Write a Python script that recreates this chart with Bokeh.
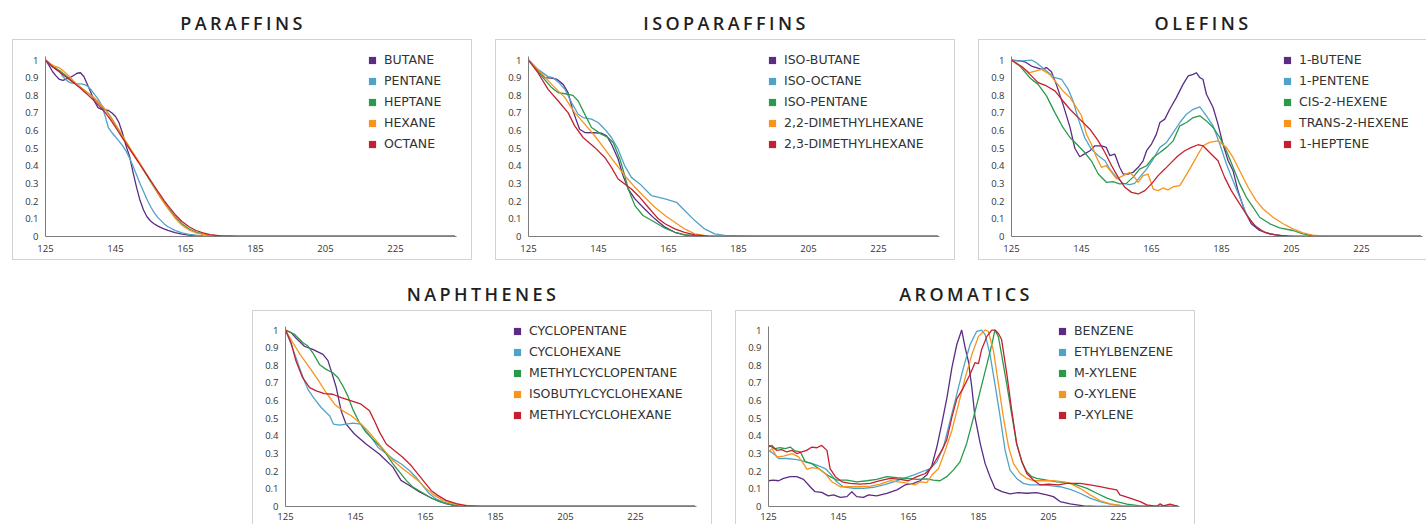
from bokeh.plotting import figure
from bokeh.models import Div, Legend, LegendItem, FixedTicker, Range1d, CustomJSTickFormatter, Spacer
from bokeh.layouts import row, column
from bokeh.embed import file_html
from bokeh.resources import INLINE

COLORS = ["#5b2c83", "#4fa3c8", "#2a9a4a", "#f7941e", "#c4202f"]
X_TICKS = [125, 145, 165, 185, 205, 225]
Y_TICKS = [0.0, 0.1, 0.2, 0.3, 0.4, 0.5, 0.6, 0.7, 0.8, 0.9, 1.0]

# ---------------- PARAFFINS ----------------
PAR_X = [125, 126, 127, 128, 129, 130, 131, 132, 133, 134, 135, 136, 137, 138, 139, 140, 141, 142, 143, 144,
         145, 146, 147, 148, 149, 150, 151, 152, 153, 154, 155, 156, 157, 158, 159, 160,
         162, 164, 166, 168, 170, 172, 175, 180, 190, 242]
BUTANE = [1.0, 0.97, 0.935, 0.91, 0.89, 0.885, 0.893, 0.90, 0.912, 0.925, 0.928, 0.905, 0.86, 0.815, 0.765, 0.73,
          0.72, 0.718, 0.714, 0.70, 0.68, 0.645, 0.585, 0.515, 0.455, 0.365, 0.28, 0.205, 0.15, 0.112, 0.088,
          0.072, 0.06, 0.05, 0.042, 0.035, 0.022, 0.013, 0.008, 0.004, 0.002, 0.001, 0, 0, 0, 0]
PENTANE = [1.0, 0.98, 0.96, 0.955, 0.935, 0.905, 0.885, 0.872, 0.868, 0.866, 0.865, 0.862, 0.852, 0.832, 0.805,
           0.78, 0.745, 0.685, 0.615, 0.588, 0.565, 0.54, 0.515, 0.485, 0.445, 0.40, 0.35, 0.30, 0.255, 0.21,
           0.17, 0.137, 0.11, 0.09, 0.07, 0.055, 0.035, 0.02, 0.012, 0.007, 0.004, 0.002, 0.001, 0, 0, 0]
HEPTANE = [1.0, 0.985, 0.965, 0.95, 0.94, 0.925, 0.908, 0.892, 0.876, 0.86, 0.845, 0.83, 0.815, 0.80, 0.78, 0.76,
           0.74, 0.72, 0.695, 0.665, 0.632, 0.60, 0.567, 0.535, 0.502, 0.47, 0.44, 0.41, 0.377, 0.345, 0.312,
           0.28, 0.248, 0.218, 0.19, 0.163, 0.112, 0.072, 0.043, 0.025, 0.014, 0.008, 0.003, 0.001, 0, 0]
HEXANE = [1.0, 0.98, 0.972, 0.962, 0.955, 0.94, 0.922, 0.902, 0.882, 0.862, 0.846, 0.83, 0.815, 0.80, 0.784,
          0.765, 0.745, 0.722, 0.696, 0.667, 0.636, 0.603, 0.571, 0.538, 0.506, 0.475, 0.445, 0.415, 0.382,
          0.35, 0.316, 0.282, 0.248, 0.216, 0.186, 0.158, 0.105, 0.064, 0.037, 0.021, 0.012, 0.006, 0.002, 0, 0, 0]
OCTANE = [1.0, 0.98, 0.962, 0.947, 0.932, 0.917, 0.902, 0.887, 0.872, 0.856, 0.84, 0.822, 0.804, 0.786, 0.767,
          0.747, 0.726, 0.703, 0.678, 0.649, 0.619, 0.588, 0.557, 0.527, 0.497, 0.467, 0.437, 0.408, 0.378,
          0.348, 0.318, 0.289, 0.259, 0.23, 0.201, 0.175, 0.125, 0.085, 0.055, 0.034, 0.02, 0.011, 0.004, 0.001, 0, 0]

# ---------------- ISOPARAFFINS ----------------
ISO_BUTANE_X = [125, 127.7, 129.7, 131.5, 133, 134.9, 136.3, 137.7, 139.6, 141.1, 143.5, 145.8, 147.3, 148.7,
                150.6, 152, 153.5, 155.4, 158.2, 161.1, 164, 166.8, 169.6, 173.4, 180, 242]
ISO_BUTANE_Y = [1.0, 0.945, 0.90, 0.898, 0.892, 0.862, 0.815, 0.712, 0.608, 0.589, 0.588, 0.586, 0.571, 0.524,
                0.439, 0.345, 0.269, 0.213, 0.156, 0.10, 0.053, 0.024, 0.009, 0.002, 0, 0]
ISO_OCTANE_X = [125, 127.7, 130.6, 132, 133.5, 135.4, 137.3, 139.2, 140.6, 143, 144.9, 146.8, 148.7, 150.6, 152.5,
                154.4, 156.8, 160.1, 164, 167.3, 169.6, 172.5, 175.3, 178.2, 181, 190, 242]
ISO_OCTANE_Y = [1.0, 0.947, 0.906, 0.90, 0.876, 0.834, 0.759, 0.693, 0.674, 0.665, 0.646, 0.608, 0.561, 0.495,
                0.40, 0.335, 0.298, 0.232, 0.213, 0.194, 0.147, 0.09, 0.043, 0.015, 0.006, 0, 0]
ISO_PENTANE_X = [125, 128.7, 131.6, 133.5, 136.3, 137.7, 139.2, 140.6, 143, 145.8, 147.7, 149.2, 151.1, 152.5,
                 153.5, 155.4, 157.7, 161.1, 164, 166.8, 169.6, 173.4, 180, 242]
ISO_PENTANE_Y = [1.0, 0.91, 0.844, 0.815, 0.806, 0.80, 0.768, 0.712, 0.618, 0.58, 0.561, 0.533, 0.439, 0.345,
                 0.269, 0.175, 0.119, 0.081, 0.047, 0.024, 0.009, 0.002, 0, 0]
DMH22_X = [125, 127.7, 131.6, 135.4, 138.2, 141.1, 143.9, 146.8, 149.6, 152.5, 155.4, 158.2, 161.1, 164, 166.8,
           169.6, 172.5, 175.3, 178.2, 185, 242]
DMH22_Y = [1.0, 0.947, 0.862, 0.787, 0.702, 0.637, 0.571, 0.495, 0.42, 0.345, 0.279, 0.222, 0.166, 0.119, 0.081,
           0.043, 0.015, 0.006, 0.002, 0, 0]
DMH23_X = [125, 127.7, 130.6, 133.5, 136.3, 138.2, 140.6, 143.9, 146.8, 148.7, 150.6, 152.5, 154.4, 156.8, 159.2,
           162.1, 164, 166.8, 169.6, 172.5, 176.3, 185, 242]
DMH23_Y = [1.0, 0.928, 0.834, 0.768, 0.702, 0.627, 0.561, 0.505, 0.448, 0.392, 0.326, 0.298, 0.269, 0.222, 0.166,
           0.10, 0.072, 0.043, 0.024, 0.009, 0.002, 0, 0]

# ---------------- OLEFINS ----------------
BUTENE1_X = [125, 127.4, 128.8, 130.7, 132.1, 133.6, 135, 136.4, 137.8, 139.7, 141.7, 143.1, 144.5, 145.9, 147.4,
             148.8, 150.7, 152.1, 153.1, 154.5, 155.9, 156.9, 158.3, 159.7, 161.2, 162.6, 163.6, 165, 166.4, 167.4,
             168.8, 170.2, 172.1, 174, 175.5, 176.9, 177.8, 178.8, 179.7, 180.7, 182.6, 184, 185.4, 186.9, 188.3,
             189.7, 191.6, 193.5, 195.9, 198.8, 201.6, 205.4, 242]
BUTENE1_Y = [1.0, 0.995, 0.99, 0.966, 0.957, 0.947, 0.957, 0.934, 0.862, 0.75, 0.62, 0.50, 0.452, 0.468, 0.486,
             0.514, 0.514, 0.505, 0.458, 0.467, 0.392, 0.354, 0.354, 0.363, 0.392, 0.429, 0.486, 0.524, 0.58, 0.646,
             0.665, 0.721, 0.787, 0.862, 0.91, 0.919, 0.928, 0.90, 0.891, 0.806, 0.731, 0.637, 0.524, 0.429, 0.373,
             0.26, 0.147, 0.072, 0.034, 0.015, 0.006, 0, 0]
PENTENE1_X = [125, 127.4, 130.7, 132.1, 135, 137.4, 139.3, 141.2, 142.6, 144.1, 145.9, 147.8, 149.8, 151.7, 153.1,
              155, 156.9, 158.8, 160.2, 161.6, 163.6, 165.5, 167.4, 169.3, 171.2, 173.1, 175, 176.9, 178.8, 180.7,
              182.6, 184.5, 186.4, 188.3, 190.2, 192.1, 194, 196.4, 198.8, 202.6, 206.4, 242]
PENTENE1_Y = [1.0, 0.994, 1.0, 0.985, 0.938, 0.90, 0.891, 0.834, 0.768, 0.665, 0.561, 0.495, 0.458, 0.429, 0.382,
              0.335, 0.301, 0.294, 0.301, 0.335, 0.382, 0.439, 0.505, 0.533, 0.589, 0.646, 0.693, 0.721, 0.734,
              0.684, 0.627, 0.524, 0.411, 0.316, 0.222, 0.128, 0.072, 0.034, 0.015, 0.004, 0, 0]
CIS2HEX_X = [125, 127.4, 130.2, 132.6, 135, 137.4, 139.7, 141.7, 143.6, 145.9, 147.8, 149.8, 152.1, 154, 155.9,
             157.8, 159.7, 161.6, 163.6, 165.5, 167.4, 169.3, 171.2, 173.1, 175, 176.9, 178.8, 180.7, 182.6, 184.5,
             186.4, 188.3, 190.2, 192.1, 194, 195.9, 198.8, 201.6, 205.4, 208.3, 211.1, 215.9, 242]
CIS2HEX_Y = [1.0, 0.966, 0.90, 0.862, 0.797, 0.702, 0.618, 0.561, 0.524, 0.476, 0.429, 0.354, 0.307, 0.311, 0.298,
             0.301, 0.335, 0.382, 0.401, 0.448, 0.476, 0.505, 0.542, 0.627, 0.646, 0.674, 0.684, 0.655, 0.618, 0.561,
             0.486, 0.392, 0.298, 0.222, 0.166, 0.109, 0.072, 0.049, 0.034, 0.015, 0.004, 0, 0]
TRANS2HEX_X = [125, 127.4, 130.2, 133.6, 135.9, 137.8, 139.7, 141.7, 143.6, 145, 146.4, 147.8, 149.3, 150.7, 152.1,
               153.6, 155, 156.9, 158.8, 160.2, 161.2, 162.6, 164, 165.5, 166.9, 168.3, 169.7, 171.2, 173.1, 174.5,
               175.9, 177.8, 179.7, 181.6, 184, 186.4, 188.3, 190.2, 192.6, 194.9, 196.9, 199.7, 202.6, 205.4,
               208.3, 211.1, 215, 242]
TRANS2HEX_Y = [1.0, 0.966, 0.928, 0.947, 0.919, 0.872, 0.825, 0.787, 0.731, 0.684, 0.58, 0.524, 0.448, 0.392,
               0.401, 0.363, 0.326, 0.345, 0.363, 0.335, 0.307, 0.345, 0.354, 0.269, 0.26, 0.275, 0.264, 0.282,
               0.288, 0.335, 0.382, 0.448, 0.514, 0.533, 0.542, 0.505, 0.448, 0.373, 0.279, 0.203, 0.156, 0.109,
               0.072, 0.043, 0.021, 0.008, 0, 0]
HEPTENE1_X = [125, 128.3, 130.7, 132.6, 135, 137.4, 139.7, 141.7, 144.5, 147.4, 149.8, 151.7, 153.6, 155.5, 157.4,
              159.3, 161.2, 163.1, 165, 166.9, 168.8, 170.7, 172.6, 174.5, 176.4, 178.3, 179.7, 181.6, 184, 185.9,
              187.8, 190.2, 192.6, 194.9, 197.3, 200.2, 204, 207.4, 242]
HEPTENE1_Y = [1.0, 0.957, 0.91, 0.872, 0.853, 0.825, 0.768, 0.721, 0.665, 0.608, 0.542, 0.476, 0.401, 0.335,
              0.279, 0.25, 0.241, 0.26, 0.298, 0.345, 0.382, 0.42, 0.458, 0.486, 0.505, 0.52, 0.514, 0.476, 0.429,
              0.335, 0.26, 0.185, 0.109, 0.053, 0.024, 0.009, 0.002, 0, 0]

# ---------------- NAPHTHENES ----------------
CYCLOPENTANE_X = [125, 126.6, 128, 130.4, 132.8, 135.7, 137.1, 138.2, 139.5, 140.9, 142.3, 144.7, 148, 151.8,
                  155.7, 158, 160.4, 163.3, 167.1, 170.9, 173.8, 180, 242]
CYCLOPENTANE_Y = [1.0, 0.985, 0.955, 0.908, 0.89, 0.862, 0.828, 0.76, 0.674, 0.542, 0.467, 0.411, 0.354, 0.298,
                  0.223, 0.148, 0.119, 0.082, 0.044, 0.016, 0.003, 0, 0]
CYCLOHEXANE_X = [125, 126.6, 128, 129, 130.4, 131.4, 133.3, 135.2, 136.6, 137.6, 138.7, 140.4, 142.3, 144.2,
                 146.6, 148, 149.5, 151.4, 153.3, 155.7, 158, 160.4, 162.3, 164.2, 166.1, 168, 170, 172.8, 176.6,
                 185, 242]
CYCLOHEXANE_Y = [1.0, 0.92, 0.843, 0.787, 0.711, 0.664, 0.608, 0.561, 0.533, 0.514, 0.467, 0.461, 0.467, 0.473,
                 0.467, 0.43, 0.392, 0.336, 0.307, 0.27, 0.242, 0.204, 0.166, 0.119, 0.072, 0.044, 0.025, 0.008,
                 0.001, 0, 0]
MCP_X = [125, 127.6, 130, 131.4, 132.8, 134.7, 136.6, 138.5, 140, 141.4, 142.8, 144.2, 146.1, 148, 150.4, 152.3,
         153.8, 155.7, 157.6, 159.5, 161.4, 163.8, 166.1, 168.5, 170.9, 173.8, 177.6, 185, 242]
MCP_Y = [1.0, 0.975, 0.928, 0.909, 0.871, 0.805, 0.777, 0.758, 0.73, 0.683, 0.627, 0.552, 0.476, 0.42, 0.373,
         0.336, 0.298, 0.242, 0.195, 0.148, 0.11, 0.082, 0.054, 0.031, 0.016, 0.005, 0.001, 0, 0]
IBCH_X = [125, 127.1, 129.5, 131.9, 134.2, 136.6, 139, 141.4, 143.8, 146.1, 148.5, 150.9, 153.3, 155.7, 158,
          160.4, 162.8, 165.2, 167.6, 170, 172.8, 175.7, 180.4, 190, 242]
IBCH_Y = [1.0, 0.928, 0.852, 0.787, 0.72, 0.646, 0.58, 0.542, 0.514, 0.476, 0.43, 0.373, 0.317, 0.26, 0.223,
          0.185, 0.148, 0.10, 0.063, 0.035, 0.016, 0.007, 0.001, 0, 0]
MCH_X = [125, 126.6, 128, 129.9, 131.9, 133.8, 136.1, 138.5, 140.9, 143.8, 146.6, 149, 150.4, 151.9, 153.8, 156.1,
         158.5, 160.9, 162.8, 164.7, 166.6, 168.5, 170.9, 173.8, 176.6, 180.4, 190, 242]
MCH_Y = [1.0, 0.928, 0.824, 0.73, 0.674, 0.655, 0.64, 0.636, 0.617, 0.599, 0.58, 0.542, 0.486, 0.42, 0.354,
         0.317, 0.279, 0.232, 0.185, 0.138, 0.091, 0.063, 0.035, 0.016, 0.005, 0.001, 0, 0]

# ---------------- AROMATICS ----------------
BENZENE_X = [125, 126.4, 127.9, 129.3, 131.2, 133.1, 135, 136.9, 138.3, 140.2, 142.1, 143.6, 145.5, 147.4, 148.8,
             150.2, 152.1, 153.6, 155.9, 158.8, 161.7, 164, 166.4, 168.3, 170.2, 171.7, 173.1, 174.5, 176, 177.4,
             178.8, 180.2, 181.2, 182.1, 183.1, 184, 185.5, 186.9, 188.3, 189.7, 191.7, 194, 196.4, 198.8, 201.6,
             204.5, 206.4, 208.3, 211.2, 215, 218.8, 242]
BENZENE_Y = [0.146, 0.15, 0.146, 0.159, 0.169, 0.169, 0.154, 0.112, 0.084, 0.08, 0.06, 0.066, 0.052, 0.056, 0.084,
             0.056, 0.052, 0.066, 0.06, 0.075, 0.094, 0.122, 0.131, 0.146, 0.178, 0.234, 0.337, 0.468, 0.618,
             0.787, 0.918, 1.0, 0.899, 0.824, 0.674, 0.506, 0.356, 0.243, 0.169, 0.103, 0.084, 0.071, 0.079, 0.075,
             0.079, 0.066, 0.056, 0.028, 0.015, 0.004, 0, 0]
ETHYLBENZENE_X = [125, 126.4, 127.9, 130.2, 133.1, 135.9, 138.8, 141.2, 142.6, 144.5, 146.4, 149.3, 152.1, 155,
                  157.9, 160.7, 163.6, 166.4, 168.8, 171.2, 173.1, 175, 176.9, 178.8, 180.7, 182.6, 184.5, 185.9,
                  186.9, 188.3, 189.7, 191.2, 192.6, 194, 195.9, 197.8, 199.7, 202.6, 205.5, 208.3, 211.2, 214,
                  216.9, 219.7, 222.6, 226.4, 230.2, 242]
ETHYLBENZENE_Y = [0.318, 0.30, 0.272, 0.272, 0.266, 0.253, 0.234, 0.215, 0.187, 0.14, 0.112, 0.103, 0.103, 0.109,
                  0.122, 0.14, 0.159, 0.178, 0.197, 0.215, 0.253, 0.337, 0.487, 0.637, 0.787, 0.918, 0.993, 1.0,
                  0.974, 0.861, 0.693, 0.506, 0.318, 0.206, 0.159, 0.131, 0.122, 0.122, 0.118, 0.112, 0.097, 0.075,
                  0.047, 0.028, 0.013, 0.004, 0, 0]
MXYLENE_X = [125, 126, 126.9, 128.3, 129.8, 131.2, 132.6, 134.1, 135.5, 137.4, 139.3, 141.2, 142.6, 144.5, 147.4,
             150.2, 153.1, 155.9, 158.8, 161.7, 164.5, 167.4, 170.2, 172.1, 174, 175.9, 177.8, 179.7, 181.6, 183.6,
             185.5, 187.4, 188.8, 189.7, 190.7, 191.6, 193.1, 194.5, 195.9, 197.4, 198.8, 200.2, 201.6, 204.5,
             207.4, 210.2, 213.1, 216, 218.8, 221.7, 224.5, 227.4, 231.2, 235, 242]
MXYLENE_Y = [0.337, 0.346, 0.328, 0.333, 0.328, 0.337, 0.315, 0.309, 0.253, 0.243, 0.215, 0.187, 0.169, 0.15,
             0.15, 0.14, 0.146, 0.154, 0.169, 0.163, 0.159, 0.154, 0.157, 0.15, 0.146, 0.169, 0.206, 0.253, 0.356,
             0.506, 0.655, 0.805, 0.918, 1.0, 0.96, 0.86, 0.69, 0.52, 0.356, 0.253, 0.197, 0.169, 0.159, 0.15,
             0.14, 0.135, 0.122, 0.103, 0.075, 0.047, 0.028, 0.013, 0.004, 0, 0]
OXYLENE_X = [125, 126, 127.4, 129.3, 131.7, 133.6, 135, 136, 137.4, 139.3, 141.2, 143.1, 145.5, 148.3, 151.2,
             154.1, 156.9, 159.8, 162.1, 165, 166.9, 168.3, 170.2, 171.7, 173.6, 175.5, 177.4, 179.3, 181.2, 183.1,
             185, 186.9, 187.8, 189.3, 190.7, 192.1, 193.6, 195, 196.9, 198.8, 200.7, 203.6, 206.4, 209.3, 211.2,
             214, 216.9, 219.7, 222.6, 226.4, 230.2, 242]
OXYLENE_Y = [0.309, 0.328, 0.281, 0.285, 0.30, 0.281, 0.243, 0.21, 0.22, 0.215, 0.187, 0.14, 0.112, 0.112, 0.112,
             0.116, 0.127, 0.146, 0.14, 0.131, 0.122, 0.14, 0.135, 0.178, 0.215, 0.318, 0.431, 0.58, 0.73, 0.861,
             0.964, 1.0, 0.993, 0.88, 0.693, 0.506, 0.337, 0.243, 0.187, 0.159, 0.146, 0.146, 0.146, 0.14, 0.131,
             0.103, 0.066, 0.034, 0.015, 0.004, 0, 0]
PXYLENE_X = [125, 126, 127.4, 128.8, 130.2, 131.7, 133.1, 134.5, 135.9, 137.4, 138.8, 140.2, 141.7, 142.6, 144.1,
             146, 148.3, 151.2, 154.1, 156.9, 159.8, 162.6, 165, 167.4, 169.8, 171.7, 173.1, 174.5, 175.9, 177.4,
             178.8, 180.7, 182.6, 184, 185, 185.9, 187.4, 188.8, 189.7, 190.7, 191.6, 193.1, 194.5, 195.9, 197.4,
             198.8, 200.7, 202.6, 205, 207.8, 210.2, 214, 216.9, 219.7, 222.1, 224.5, 225.4, 228.3, 231.2, 233.1,
             235.9, 236.9, 237.8, 239.7, 242]
PXYLENE_Y = [0.346, 0.337, 0.318, 0.322, 0.309, 0.318, 0.30, 0.309, 0.318, 0.337, 0.333, 0.346, 0.318, 0.215,
             0.169, 0.14, 0.131, 0.127, 0.131, 0.146, 0.159, 0.154, 0.146, 0.169, 0.187, 0.225, 0.272, 0.318, 0.375,
             0.506, 0.61, 0.674, 0.749, 0.815, 0.81, 0.89, 0.964, 1.0, 1.0, 0.98, 0.946, 0.75, 0.543, 0.356, 0.253,
             0.187, 0.15, 0.122, 0.127, 0.122, 0.131, 0.131, 0.122, 0.112, 0.103, 0.094, 0.066, 0.047, 0.028,
             0.009, 0, 0.015, 0.004, 0.013, 0]

PANELS = [
    ("PARAFFINS", ["BUTANE", "PENTANE", "HEPTANE", "HEXANE", "OCTANE"],
     [(PAR_X, BUTANE), (PAR_X, PENTANE), (PAR_X, HEPTANE), (PAR_X, HEXANE), (PAR_X, OCTANE)]),
    ("ISOPARAFFINS", ["ISO-BUTANE", "ISO-OCTANE", "ISO-PENTANE", "2,2-DIMETHYLHEXANE", "2,3-DIMETHYLHEXANE"],
     [(ISO_BUTANE_X, ISO_BUTANE_Y), (ISO_OCTANE_X, ISO_OCTANE_Y), (ISO_PENTANE_X, ISO_PENTANE_Y),
      (DMH22_X, DMH22_Y), (DMH23_X, DMH23_Y)]),
    ("OLEFINS", ["1-BUTENE", "1-PENTENE", "CIS-2-HEXENE", "TRANS-2-HEXENE", "1-HEPTENE"],
     [(BUTENE1_X, BUTENE1_Y), (PENTENE1_X, PENTENE1_Y), (CIS2HEX_X, CIS2HEX_Y),
      (TRANS2HEX_X, TRANS2HEX_Y), (HEPTENE1_X, HEPTENE1_Y)]),
    ("NAPHTHENES", ["CYCLOPENTANE", "CYCLOHEXANE", "METHYLCYCLOPENTANE", "ISOBUTYLCYCLOHEXANE",
                    "METHYLCYCLOHEXANE"],
     [(CYCLOPENTANE_X, CYCLOPENTANE_Y), (CYCLOHEXANE_X, CYCLOHEXANE_Y), (MCP_X, MCP_Y),
      (IBCH_X, IBCH_Y), (MCH_X, MCH_Y)]),
    ("AROMATICS", ["BENZENE", "ETHYLBENZENE", "M-XYLENE", "O-XYLENE", "P-XYLENE"],
     [(BENZENE_X, BENZENE_Y), (ETHYLBENZENE_X, ETHYLBENZENE_Y), (MXYLENE_X, MXYLENE_Y),
      (OXYLENE_X, OXYLENE_Y), (PXYLENE_X, PXYLENE_Y)]),
]

FONT = "Open Sans"
X_END = 242.43      # end of the drawn x axis
Y_END = 1.02        # end of the drawn y axis
PX_PER_X = 3.5
PX_PER_Y = 176.5
# horizontal position (frame-relative px) of each panel's legend
LEGEND_LEFT = [318, 235, 267, 223, 285]


def make_panel(title, names, series, width, height, top, bottom, border_css, legend_left, x_standoff):
    div = Div(text=('<div style="width:%dpx;text-align:center;font-family:\'Open Sans\';font-size:18px;'
                    'font-weight:600;letter-spacing:3.4px;color:#231f20;line-height:31px;white-space:nowrap">'
                    '%s</div>') % (width + 2, title), width=width + 2, height=31, margin=0)
    frame_w = width - 32
    frame_h = height - bottom
    p = figure(width=width, height=height,
               x_range=Range1d(125, 125 + frame_w / PX_PER_X),
               y_range=Range1d(0, Y_END + top / PX_PER_Y),
               output_backend="svg", toolbar_location=None,
               min_border_left=32, min_border_right=0, min_border_top=0,
               min_border_bottom=bottom)
    p.styles = border_css
    p.outline_line_color = None
    p.xgrid.visible = False
    p.ygrid.visible = False
    for ax in (p.xaxis[0], p.yaxis[0]):
        ax.axis_line_color = "#7d7d7d"
        ax.axis_line_width = 1
        ax.major_tick_line_color = None
        ax.minor_tick_line_color = None
        ax.major_tick_out = 0
        ax.major_tick_in = 0
        ax.major_label_text_font = FONT
        ax.major_label_text_font_size = "9.5px"
        ax.major_label_text_color = "#333333"
    p.xaxis.ticker = FixedTicker(ticks=X_TICKS)
    p.xaxis.bounds = (125, X_END)
    p.xaxis.major_label_text_align = "left"
    p.xaxis.major_label_standoff = x_standoff
    p.yaxis.ticker = FixedTicker(ticks=Y_TICKS)
    p.yaxis.bounds = (0, Y_END)
    p.yaxis.formatter = CustomJSTickFormatter(code="return (Math.round(tick*10)/10).toString();")
    p.yaxis.major_label_standoff = 7

    items = []
    for name, (xs, ys), c in zip(names, series, COLORS):
        p.line(xs, ys, line_color=c, line_width=1.3)
    for name, c in zip(names, COLORS):
        r = p.scatter(x=[float("nan")], y=[float("nan")], marker="square", fill_color=c, line_color=None)
        items.append(LegendItem(label=name, renderers=[r]))
    legend = Legend(items=items, location=(legend_left, frame_h - 9 - 105), glyph_width=18, glyph_height=18,
                    label_standoff=3, label_height=21, spacing=0, padding=0, margin=0,
                    border_line_color=None, background_fill_alpha=0,
                    label_text_font="DejaVu Sans", label_text_font_size="12.5px", label_text_color="#333333")
    p.add_layout(legend)
    return column(div, p, spacing=0)


BORDER = "1px solid #d2d2d2"
panels = []
for i, (title, names, series) in enumerate(PANELS):
    if i < 2:
        panels.append(make_panel(title, names, series, 460, 221, 16, 25, {"border": BORDER},
                                 LEGEND_LEFT[i], 8))
    elif i == 2:
        panels.append(make_panel(title, names, series, 448, 221, 16, 25,
                                 {"border": BORDER, "border-right": "none"}, LEGEND_LEFT[i], 8))
    else:
        panels.append(make_panel(title, names, series, 460, 214, 15, 19,
                                 {"border": BORDER, "border-bottom": "none"}, LEGEND_LEFT[i], 6))

row1 = row(Spacer(width=12), panels[0], Spacer(width=21), panels[1], Spacer(width=21), panels[2])
row2 = row(Spacer(width=252), panels[3], Spacer(width=21), panels[4])
page = column(Spacer(height=8), row1, Spacer(height=19), row2)

open("out.html", "w").write(file_html(page, INLINE))
